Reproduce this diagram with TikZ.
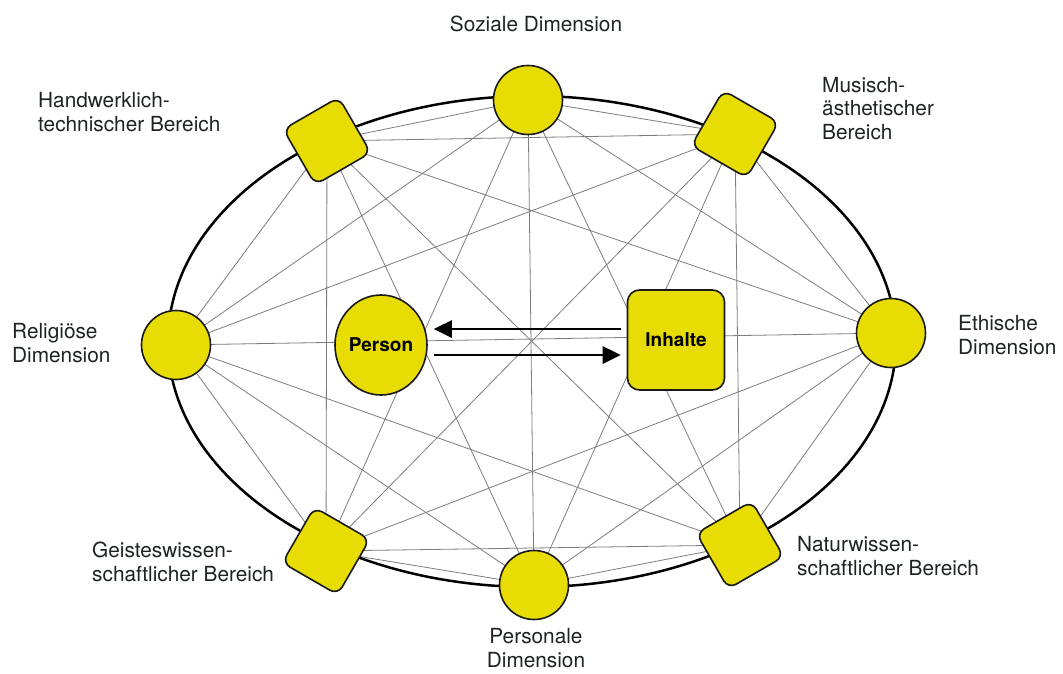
\documentclass[tikz,border=0pt]{standalone}
\usepackage{fontspec}
\setmainfont{TeX Gyre Heros}
\usetikzlibrary{arrows.meta,backgrounds,shapes.geometric}
\definecolor{nodeyellow}{RGB}{232,220,5}
\definecolor{edgegray}{RGB}{125,125,125}
\definecolor{textdark}{RGB}{30,35,35}
\begin{document}
\begin{tikzpicture}[x=1pt,y=-1pt,
  circnode/.style={circle, draw=black!90, line width=1.6pt, fill=nodeyellow, minimum size=69pt, inner sep=0pt},
  sqnode/.style={rectangle, rounded corners=9pt, draw=black!90, line width=1.6pt, fill=nodeyellow, minimum size=64pt, inner sep=0pt},
  lbl/.style={font=\fontsize{20.8}{23.5}\selectfont, align=left, inner sep=0pt, text=textdark},
  inner/.style={draw=black!90, line width=1.6pt, fill=nodeyellow, font=\bfseries\fontsize{19}{22}\selectfont, inner sep=0pt},
  link/.style={draw=edgegray, line width=0.8pt},
  arr/.style={line width=2.8pt, -{Triangle[length=18pt,width=17pt]}}
]
\useasboundingbox (0,0) rectangle (1063,673);

% outer nodes
\node[circnode] (soz) at (528,100) {};
\node[sqnode, rotate=-30] (mus) at (735,134) {};
\node[circnode] (eth) at (891,333) {};
\node[sqnode, rotate=30] (nat) at (740,545) {};
\node[circnode] (pers) at (534,585) {};
\node[sqnode, rotate=-30] (geist) at (326,551) {};
\node[circnode] (rel) at (176,345) {};
\node[sqnode, rotate=30] (hand) at (327,141) {};

% inner nodes
\node[inner, ellipse, minimum width=92pt, minimum height=100pt] (person) at (381,345) {Person};
\node[inner, rectangle, rounded corners=12pt, minimum width=97pt, minimum height=100pt] (inhalte) at (676,340) {Inhalte};

\begin{pgfonlayer}{background}
  \fill[white] (0,0) rectangle (1063,673);
  \foreach \a/\b in {soz/mus,soz/eth,soz/nat,soz/pers,soz/geist,soz/rel,soz/hand,
                     mus/eth,mus/nat,mus/pers,mus/geist,mus/rel,mus/hand,
                     eth/nat,eth/pers,eth/geist,eth/rel,eth/hand,
                     nat/pers,nat/geist,nat/rel,nat/hand,
                     pers/geist,pers/rel,pers/hand,
                     geist/rel,geist/hand,
                     rel/hand}
    \draw[link] (\a.center) -- (\b.center);
  \draw[line width=2.5pt] (532,341.5) ellipse [x radius=364, y radius=245.5];
\end{pgfonlayer}

% arrows between Person and Inhalte
\draw[arr] ([shift={(-6,-11)}]inhalte.west) -- ([shift={(6,-16)}]person.east);
\draw[arr] ([shift={(6,10)}]person.east) -- ([shift={(-6,15)}]inhalte.west);

% labels (anchor = baseline of the last line)
\node[lbl, anchor=base] (tsoz) at (536,31) {Soziale Dimension};
\node[lbl, anchor=base west] (tmus) at (822,139) {Musisch-\\ästhetischer\\Bereich};
\node[lbl, anchor=base west] (teth) at (958,354) {Ethische\\Dimension};
\node[lbl, anchor=base west] (tnat) at (797,575) {Naturwissen-\\schaftlicher Bereich};
\node[lbl, anchor=base, align=center] (tpers) at (536,667) {Personale\\Dimension};
\node[lbl, anchor=base west] (tgeist) at (92,581) {Geisteswissen-\\schaftlicher Bereich};
\node[lbl, anchor=base west] (trel) at (12,362) {Religiöse\\Dimension};
\node[lbl, anchor=base west] (thand) at (38,131) {Handwerklich-\\technischer Bereich};
\end{tikzpicture}
\end{document}
